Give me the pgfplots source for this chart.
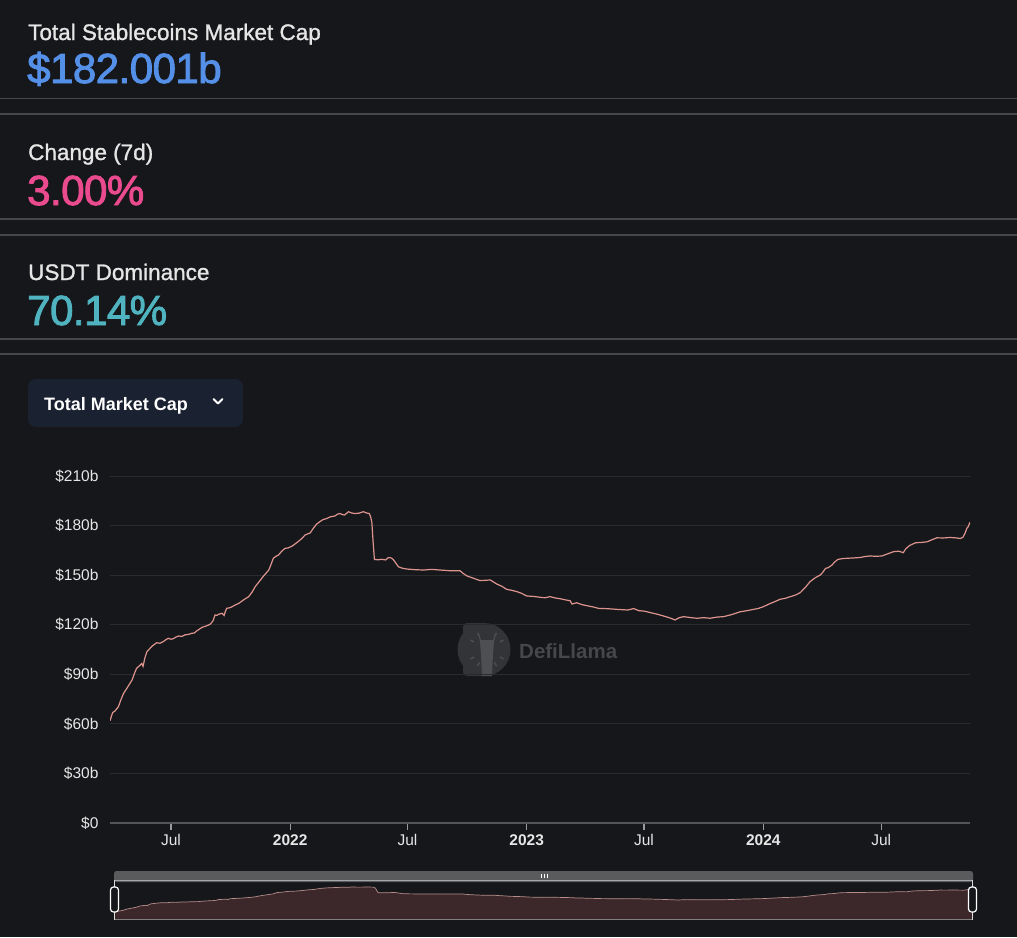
\documentclass[border=0pt]{standalone}
\usepackage{fontspec}
\setmainfont{Liberation Sans}
\newfontfamily\medfont{Liberation Sans}[FakeBold=1.2]
\newfontfamily\numfont{Liberation Sans}[FakeBold=2.2, LetterSpace=-1.2]
\usepackage{pgfplots}
\usepackage{pgfplotstable}
\pgfplotsset{compat=1.18}

\definecolor{bg}{HTML}{16171A}
\definecolor{sepc}{HTML}{46474B}
\definecolor{gridc}{HTML}{2A2B2F}
\definecolor{basec}{HTML}{55565A}
\definecolor{labc}{HTML}{E6E6E6}
\definecolor{capblue}{HTML}{5590E8}
\definecolor{chgpink}{HTML}{EA4A8E}
\definecolor{domteal}{HTML}{4FB3C0}
\definecolor{btnc}{HTML}{1A2130}
\definecolor{linec}{HTML}{DD948E}
\definecolor{navfill}{HTML}{3C282A}
\definecolor{navline}{HTML}{B58C89}
\definecolor{navbar}{HTML}{5A5B5D}
\definecolor{wm}{HTML}{333438}
\definecolor{wmllama}{HTML}{4E4F53}
\definecolor{wmtext}{HTML}{46474B}

% days since 2022-01-01, market cap in $b
\pgfplotstableread{
day cap
-278 61.9
-274 66.8
-270 67.9
-265 70.4
-261 74.8
-257 78.5
-252 81.5
-244 86.5
-240 90.8
-237 93.6
-233 95.0
-229 96.6
-227 94.8
-224 100.2
-221 103.7
-213 107.1
-206 109.1
-201 108.8
-196 109.7
-192 110.9
-188 111.8
-184 111.2
-180 111.6
-176 112.6
-172 113.2
-167 112.9
-162 113.9
-157 114.1
-152 114.8
-148 115.0
-144 116.3
-136 118.4
-129 119.3
-123 120.4
-119 122.4
-116 125.9
-113 125.7
-110 126.4
-105 126.9
-102 125.6
-100 128.0
-98 129.9
-92 130.4
-85 131.9
-79 133.0
-72 135.0
-64 137.0
-59 139.6
-54 143.0
-48 146.0
-41 149.5
-33 153.1
-30 156.0
-26 160.2
-22 161.4
-18 162.2
-13 164.5
-8 166.2
-3 166.5
3 167.6
10 169.6
17 171.8
23 174.3
31 175.6
36 178.5
41 181.0
46 182.4
51 183.7
56 184.2
62 185.3
69 185.8
73 186.9
77 187.3
81 186.6
84 186.4
90 188.4
95 187.6
100 187.3
106 187.5
113 188.4
118 187.6
122 187.3
124 185.5
126 182.0
128 170.0
130 159.5
136 159.3
141 159.6
147 159.2
152 160.7
156 160.4
159 159.5
163 157.3
167 155.1
173 154.2
180 153.7
193 153.3
206 153.1
218 153.5
231 153.1
246 152.7
262 152.7
267 151.0
273 149.5
283 148.1
293 146.7
302 146.9
309 147.1
313 146.0
319 144.6
327 143.2
334 141.4
341 140.9
350 140.0
357 139.0
365 137.4
376 137.1
386 136.6
393 136.3
401 137.0
409 136.2
417 135.7
424 135.1
432 134.5
435 132.5
442 133.3
450 132.2
458 131.5
467 130.8
476 129.9
490 129.7
504 129.3
521 128.9
530 129.8
538 128.5
547 128.2
556 127.3
566 126.4
576 125.3
586 124.1
594 122.9
600 124.2
607 124.9
618 124.3
628 123.9
638 124.3
648 123.9
658 124.6
669 124.9
682 126.2
694 127.8
705 128.5
715 129.3
722 129.8
730 130.9
741 132.9
748 134.0
756 135.4
764 136.0
772 137.0
780 138.0
787 139.4
795 142.6
802 146.0
810 148.4
818 150.1
822 151.8
826 154.1
830 154.5
836 156.1
840 157.9
845 159.5
852 160.0
859 160.2
869 160.4
880 160.7
887 161.3
895 161.6
904 161.4
913 161.6
922 162.9
931 164.2
939 164.5
946 163.6
950 166.0
956 168.0
965 169.6
974 169.8
983 170.2
990 171.4
998 172.6
1008 172.5
1018 172.8
1026 172.6
1034 172.2
1038 172.9
1040 174.3
1042 176.0
1044 178.3
1046 179.2
1049 182.0
}\mcap

\begin{document}
\begin{tikzpicture}
\begin{scope}[x=1pt,y=-1pt]
\useasboundingbox (0,0) rectangle (1017,937);
\fill[bg] (0,0) rectangle (1017,937);
% panel separators
\foreach \yy in {98.5,114,219,235,339,354}
  \draw[sepc, line width=1.2pt] (0,\yy) -- (1017,\yy);
% headline figures
\node[anchor=base west, inner sep=0, text=labc, font=\medfont\fontsize{22.5}{26}\selectfont] at (28,40) {Total Stablecoins Market Cap};
\node[anchor=base west, inner sep=0, text=capblue, font=\numfont\fontsize{42}{48}\selectfont] at (27,83) {\$182.001b};
\node[anchor=base west, inner sep=0, text=labc, font=\medfont\fontsize{22.5}{26}\selectfont] at (28,160) {Change (7d)};
\node[anchor=base west, inner sep=0, text=chgpink, font=\numfont\fontsize{42}{48}\selectfont] at (27,205) {3.00\%};
\node[anchor=base west, inner sep=0, text=labc, font=\medfont\fontsize{22.5}{26}\selectfont] at (28,280) {USDT Dominance};
\node[anchor=base west, inner sep=0, text=domteal, font=\numfont\fontsize{42}{48}\selectfont] at (27,325) {70.14\%};
% dropdown button
\fill[btnc, rounded corners=8pt] (28,379) rectangle (243,427);
\node[anchor=base west, inner sep=0, text=white, font=\bfseries\fontsize{18}{22}\selectfont] at (44,410) {Total Market Cap};
\draw[white, line width=1.8pt, line cap=round, line join=round] (213.5,399) -- (218,403.5) -- (222.5,399);
% watermark
\fill[wm, rounded corners=4pt] (463,623) rectangle (488,676);
\fill[wm] (484,649.5) circle (26.5);
\fill[wmllama] (478,632) -- (481,640) -- (493,640) -- (496,632) -- (494,642) -- (493,654) -- (492,676) -- (482,676) -- (481,654) -- (480,642) -- cycle;
\foreach \a in {30,60,120,150,210,240,300,330}
  \draw[wmllama, line width=1.4pt, shift={(487,649.5)}] (\a:15) -- (\a:19);
\node[anchor=base west, inner sep=0, text=wmtext, font=\bfseries\fontsize{20.5}{24}\selectfont] at (519,658) {DefiLlama};
\end{scope}

\begin{axis}[
  at={(110pt,-823pt)}, anchor=south west,
  width=860pt, height=347pt, scale only axis,
  xmin=-278, xmax=1049, ymin=0, ymax=210,
  axis line style={draw=none},
  ytick={0,30,...,210},
  yticklabels={\$0,\$30b,\$60b,\$90b,\$120b,\$150b,\$180b,\$210b},
  xtick={-184,0,181,365,546,730,912},
  xticklabels={Jul,\textbf{2022},Jul,\textbf{2023},Jul,\textbf{2024},Jul},
  ymajorgrids,
  grid style={color=gridc, line width=1pt},
  tick align=outside, tick pos=left,
  major tick length=7pt,
  ytick style={draw=none},
  xtick style={color=basec!60!white, line width=1.2pt},
  tick label style={text=labc, font=\fontsize{15.5}{18}\selectfont},
  yticklabel style={xshift=-1pt},
  xticklabel style={yshift=-1pt},
]
\addplot[draw=basec, line width=1.4pt, forget plot] coordinates {(-278,0) (1049,0)};
\addplot[color=linec, line width=1.2pt, mark=none] table[x=day, y=cap] {\mcap};
\end{axis}

\begin{axis}[
  at={(114pt,-919pt)}, anchor=south west,
  width=859pt, height=39pt, scale only axis,
  xmin=-278, xmax=1049, ymin=28, ymax=223,
  hide axis,
]
\addplot[draw=none, fill=navfill] table[x=day, y=cap] {\mcap} \closedcycle;
\addplot[color=navline, line width=0.7pt, mark=none] table[x=day, y=cap] {\mcap};
\end{axis}

\begin{scope}[x=1pt,y=-1pt]
\fill[navbar, rounded corners=2.5pt] (114,871) rectangle (973,882);
\fill[navbar] (114,877) rectangle (973,880);
\draw[draw=white!62!bg, line width=1pt] (114,880.5) -- (973,880.5);
\draw[draw=white!45!bg, line width=1pt] (114,919) -- (973,919);
\foreach \xx in {541,544,547} \draw[white, line width=1pt] (\xx,873.5) -- (\xx,877.5);
\draw[white!85!bg, line width=1pt] (114.5,880) -- (114.5,920);
\draw[white!85!bg, line width=1pt] (972.5,880) -- (972.5,920);
\filldraw[fill=bg, draw=white, line width=1.2pt, rounded corners=3pt] (110.5,887) rectangle (118.5,912);
\filldraw[fill=bg, draw=white, line width=1.2pt, rounded corners=3pt] (968.5,887) rectangle (976.5,912);
\end{scope}
\end{tikzpicture}
\end{document}
